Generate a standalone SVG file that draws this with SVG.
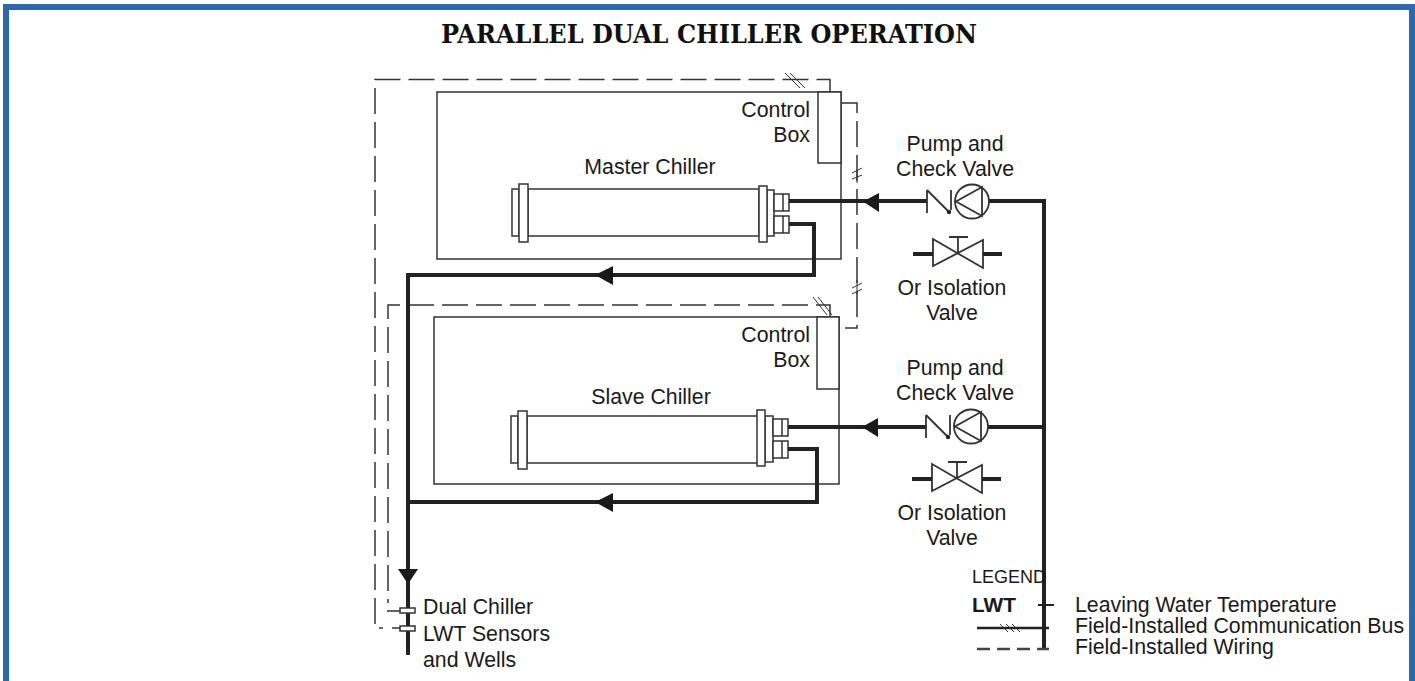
<svg xmlns="http://www.w3.org/2000/svg" width="1415" height="681" viewBox="0 0 1415 681">
<style>
text{font-family:"Liberation Sans",Arial,sans-serif;font-size:21.3px;fill:#1a1a1a}
.title{font-family:"DejaVu Serif","Liberation Serif",serif;font-weight:700;font-size:26px;fill:#111}
.thin{fill:#fff;stroke:#333;stroke-width:1.5}
.thinl{fill:none;stroke:#333;stroke-width:1.5}
.val{fill:none;stroke:#333;stroke-width:1.8}
.pipe{fill:none;stroke:#222;stroke-width:4}
.dash{fill:none;stroke:#333;stroke-width:1.5;stroke-dasharray:26 8}
.sl{fill:none;stroke:#333;stroke-width:1}
.ah{fill:#1a1a1a}
</style>
<defs>
<g id="valves">
<path class="val" d="M927 190V213M927 190L949 212M951 190V210"/>
<circle cx="949" cy="212" r="2.200" fill="#222"/>
<circle class="val" cx="972" cy="201.500" r="17"/>
<path class="val" d="M982 187L956 201.500L982 216Z"/>
<path class="val" d="M933 239V266L983 240V268ZM958 253V237M949 237H968"/>
<path class="pipe" d="M913 254H933M983 254H1002"/>
</g>
</defs>
<rect width="1415" height="681" fill="#fff"/>
<path d="M6 681V7H1412V681" fill="none" stroke="#2e66b0" stroke-width="6"/>
<text class="title" x="709" y="43" text-anchor="middle" textLength="536" lengthAdjust="spacingAndGlyphs">PARALLEL DUAL CHILLER OPERATION</text>
<g id="connectors">
<path class="dash" d="M830 92V79.500H375V628H383"/>
<path class="dash" d="M830 317V305H388V603"/>
<path class="dash" d="M841 103H857V328H845"/>
<path class="thinl" d="M387 611H400M392 628H400"/>
<path class="sl" d="M785 73L800 88M790 73L805 88M813 297L827 315M818 297L832 315"/>
<path class="sl" d="M852 173L862 168M852 179L862 175M857 170V183M852 288L862 283M852 294L862 289M857 280V294"/>
</g>
<g id="master-chiller">
<rect class="thin" x="437" y="92" width="404" height="167"/>
<rect class="thin" x="818" y="92" width="23" height="71"/>
<rect class="thin" x="528" y="189" width="231" height="47"/>
<rect class="thin" x="512" y="189" width="7" height="47"/>
<rect class="thin" x="519" y="184" width="9" height="58"/>
<rect class="thin" x="767" y="190" width="7" height="46"/>
<rect class="thin" x="759" y="186" width="8" height="56"/>
<rect class="thin" x="774" y="194" width="15" height="17"/>
<rect class="thin" x="774" y="216" width="15" height="17"/>
<path class="thinl" d="M783 194V211M783 216V233"/>
<text x="650" y="174" text-anchor="middle">Master Chiller</text>
<text x="810" y="117" text-anchor="end">Control</text>
<text x="810" y="142" text-anchor="end">Box</text>
</g>
<g id="slave-chiller">
<rect class="thin" x="434" y="317" width="405" height="167"/>
<rect class="thin" x="817" y="317" width="22" height="72"/>
<rect class="thin" x="527" y="416" width="231" height="47"/>
<rect class="thin" x="511" y="416" width="7" height="47"/>
<rect class="thin" x="518" y="411" width="9" height="58"/>
<rect class="thin" x="765" y="416" width="8" height="46"/>
<rect class="thin" x="757" y="410" width="8" height="56"/>
<rect class="thin" x="773" y="419" width="15" height="17"/>
<rect class="thin" x="773" y="441" width="15" height="17"/>
<path class="thinl" d="M782 419V436M782 441V458"/>
<text x="651" y="404" text-anchor="middle">Slave Chiller</text>
<text x="810" y="342" text-anchor="end">Control</text>
<text x="810" y="367" text-anchor="end">Box</text>
</g>
<g id="pipes">
<path class="pipe" d="M789 201H927M989 201H1044V650"/>
<path class="pipe" d="M788 427H927M988 427H1044"/>
<path class="pipe" d="M789 224H814V275H408V655"/>
<path class="pipe" d="M788 449H817V502H408"/>
<path class="ah" d="M595 275L613 266V285ZM595 502L613 493V512ZM863 201.500L879 193V212ZM862 427L878 418V437ZM398 569H418L408 584Z"/>
</g>
<g id="pump-master"><use href="#valves"/>
<text x="955" y="151" text-anchor="middle">Pump and</text>
<text x="955" y="176" text-anchor="middle">Check Valve</text>
<text x="952" y="295" text-anchor="middle">Or Isolation</text>
<text x="952" y="320" text-anchor="middle">Valve</text></g>
<g id="pump-slave"><use href="#valves" transform="translate(-1 225)"/>
<text x="955" y="375" text-anchor="middle">Pump and</text>
<text x="955" y="400" text-anchor="middle">Check Valve</text>
<text x="952" y="520" text-anchor="middle">Or Isolation</text>
<text x="952" y="545" text-anchor="middle">Valve</text></g>
<g id="sensors">
<rect class="thin" x="400" y="608" width="15" height="5"/>
<rect class="thin" x="400" y="626" width="15" height="5"/>
<text x="423" y="614">Dual Chiller</text>
<text x="423" y="641">LWT Sensors</text>
<text x="423" y="667">and Wells</text>
</g>
<g id="legend">
<text x="972" y="583" style="font-size:18px">LEGEND</text>
<text x="972" y="612" style="font-weight:700;font-size:20.800px">LWT</text>
<path stroke="#222" stroke-width="2" d="M1038 605H1054"/>
<path stroke="#222" stroke-width="2.500" d="M977 628H1049"/>
<path class="sl" d="M1000 624L1008 632M1006 624L1014 632M1012 624L1020 632"/>
<path stroke="#444" stroke-width="2.500" stroke-dasharray="13 7" d="M977 649H1049"/>
<text><tspan x="1075" y="612">Leaving Water Temperature</tspan><tspan x="1075" y="633">Field-Installed Communication Bus</tspan><tspan x="1075" y="654">Field-Installed Wiring</tspan></text>
</g>
</svg>
